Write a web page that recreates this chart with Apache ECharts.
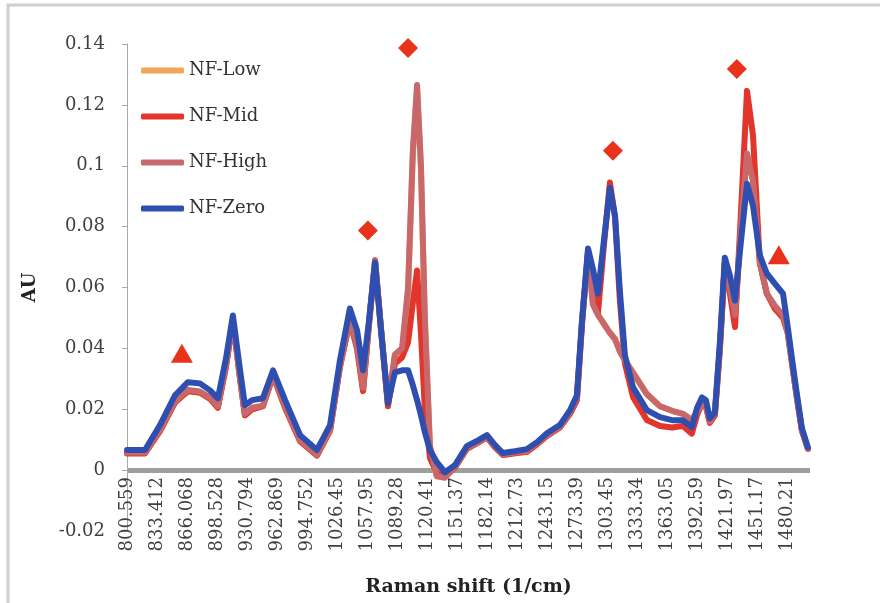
<!DOCTYPE html>
<html>
<head>
<meta charset="utf-8">
<script src="https://cdn.jsdelivr.net/npm/echarts@6/dist/echarts.min.js"></script>
<style>
  html, body { margin: 0; padding: 0; background: #fff; }
  #container { width: 880px; height: 603px; }
</style>
</head>
<body>
<div id="container"></div>
<script>
// tick labels of the category-like x axis (Raman shift, 1/cm)
let xTicks = ['800.559','833.412','866.068','898.528','930.794','962.869','994.752','1026.45',
  '1057.95','1089.28','1120.41','1151.37','1182.14','1212.73','1243.15','1273.39','1303.45',
  '1333.34','1363.05','1392.59','1421.97','1451.17','1480.21'];

// sample positions, in units of tick labels (0 = 800.559, 22 = 1480.21)
let xPos = [0,0.6,1.1,1.6,2.03,2.43,2.77,3.03,3.3,3.53,3.77,3.93,4.17,4.53,4.87,5.27,5.77,6.33,
  6.77,7.1,7.43,7.67,7.87,8.07,8.27,8.47,8.7,8.93,9.17,9.37,9.53,9.67,9.8,9.93,10.1,10.33,10.6,
  10.93,11.33,11.7,12,12.27,12.53,12.93,13.33,13.67,14,14.43,14.77,15,15.17,15.37,15.53,15.7,
  15.9,16.1,16.27,16.43,16.6,16.87,17.33,17.77,18.17,18.53,18.83,19,19.17,19.3,19.43,19.6,
  19.77,19.93,20.1,20.27,20.47,20.67,20.87,21.1,21.33,21.6,21.87,22.03,22.2,22.33,22.5,22.7];

let nfLow = [.0056,.0056,.013,.0224,.0258,.0254,.0233,.0207,.034,.049,.03,.018,.02,.021,.031,
  .0205,.0095,.0048,.013,.034,.049,.04,.026,.048,.0685,.046,.021,.037,.039,.058,.104,.125,.099,
  .049,.007,-.002,-.002,.001,.007,.009,.0108,.0075,.005,.0055,.006,.0085,.0112,.014,.0187,
  .0235,.0485,.0718,.055,.0512,.0482,.0452,.0432,.0392,.0362,.032,.025,.021,.0195,.0185,
  .0165,.019,.022,.021,.016,.019,.041,.068,.06,.05,.08,.104,.095,.068,.058,.0535,.0505,.045,
  .033,.024,.013,.007];

let nfMid = [.0055,.0055,.0128,.0222,.026,.0255,.0235,.0205,.034,.049,.03,.018,.02,.021,.031,
  .0205,.0095,.0048,.013,.034,.049,.04,.026,.048,.0688,.046,.021,.035,.037,.042,.055,.0656,
  .045,.02,.004,-.001,-.002,.0008,.007,.009,.0108,.0075,.005,.0055,.006,.0085,.0112,.014,
  .0185,.023,.048,.0715,.06,.0515,.074,.0945,.083,.056,.035,.024,.0165,.0145,.014,.0145,.012,
  .018,.022,.021,.0155,.018,.04,.068,.058,.047,.085,.1246,.11,.068,.058,.053,.05,.045,.033,
  .024,.013,.007];

let nfHigh = [.0058,.0058,.0132,.0226,.0263,.0258,.0238,.021,.0345,.0495,.03,.0185,.0205,.0212,
  .0312,.021,.0098,.005,.0132,.034,.0495,.041,.027,.049,.069,.0465,.022,.038,.04,.06,.105,
  .1265,.1,.05,.008,-.002,-.0025,.001,.0072,.0092,.011,.0078,.0052,.0058,.0063,.0088,.0115,
  .0142,.019,.024,.049,.072,.0545,.051,.048,.045,.043,.039,.036,.032,.025,.021,.0195,.0185,
  .0165,.019,.022,.021,.016,.019,.041,.068,.06,.051,.08,.104,.095,.068,.058,.054,.051,.045,
  .033,.024,.013,.007];

let nfZero = [.0066,.0066,.0148,.0246,.0289,.0285,.0262,.0236,.0367,.0508,.0328,.0213,.023,
  .0236,.0328,.023,.0115,.0066,.0148,.0361,.0531,.0459,.0328,.0492,.0682,.0459,.022,.0321,
  .0328,.0328,.0279,.023,.018,.0125,.0066,.0026,-.0007,.0016,.0079,.0098,.0115,.0082,.0056,
  .0062,.0069,.0092,.0121,.0148,.0197,.0246,.0492,.0728,.0662,.058,.0754,.0928,.0836,.059,
  .0377,.0272,.0197,.0174,.0164,.0164,.0141,.0203,.0239,.023,.017,.019,.0426,.0698,.0639,
  .0557,.0754,.0941,.0869,.0705,.0646,.0613,.058,.0469,.0344,.0252,.0138,.0075];

// peak annotation markers
let diamonds = [[9.37,.1387],[8.03,.0787],[16.2,.1049],[20.33,.1318]];
let triangles = [[1.83,.0384],[21.73,.0708]];

let names = ['NF-Low','NF-Mid','NF-High','NF-Zero'];
let colors = ['#F2A65A','#E2352B','#C9686A','#2E4FB0'];
let values = [nfLow, nfMid, nfHigh, nfZero];

let font = 'DejaVu Serif';

let lineSeries = names.map((n, k) => ({
  name: n,
  type: 'line',
  symbol: 'none',
  smooth: false,
  color: colors[k],
  lineStyle: { width: 6, color: colors[k], cap: 'round', join: 'round' },
  data: xPos.map((x, i) => [x, values[k][i]])
}));

// split lines: only the one at y = 0 is visible (thick grey baseline)
let splitColors = ['rgba(0,0,0,0)', '#9e9e9e', 'rgba(0,0,0,0)', 'rgba(0,0,0,0)', 'rgba(0,0,0,0)',
  'rgba(0,0,0,0)', 'rgba(0,0,0,0)', 'rgba(0,0,0,0)', 'rgba(0,0,0,0)'];

let chart = echarts.init(document.getElementById('container'));
chart.setOption({
  backgroundColor: '#fff',
  animation: false,
  graphic: [{
    type: 'rect',
    silent: true,
    shape: { x: 8, y: 5, width: 900, height: 640 },
    style: { fill: null, stroke: '#cfcfcf', lineWidth: 3 }
  }],
  grid: { left: 127, right: 70, top: 44, bottom: 72, containLabel: false, outerBoundsMode: 'none' },
  legend: {
    data: names,
    orient: 'vertical',
    left: 141,
    top: 60,
    padding: 0,
    icon: 'roundRect',
    itemWidth: 43,
    itemHeight: 6,
    itemGap: 25,
    textStyle: { fontFamily: font, fontSize: 18, color: '#333', lineHeight: 21 }
  },
  xAxis: {
    type: 'value',
    min: 0,
    max: 22.77,
    interval: 1,
    // axis labels sit under the y = 0 line, 61px above the bottom of the plot
    offset: -61,
    splitLine: { show: false },
    axisTick: { show: false },
    axisLine: { show: false, onZero: false },
    axisLabel: {
      rotate: 90,
      margin: 7,
      showMaxLabel: false,
      fontFamily: font,
      fontSize: 18,
      color: '#404040',
      formatter: v => xTicks[v] || ''
    },
    name: 'Raman shift (1/cm)',
    nameLocation: 'middle',
    nameGap: 108,
    nameTextStyle: { fontFamily: font, fontSize: 19, fontWeight: 'bold', color: '#222' }
  },
  yAxis: {
    type: 'value',
    min: -0.02,
    max: 0.14,
    interval: 0.02,
    splitLine: { show: true, lineStyle: { color: splitColors, width: 5 } },
    axisLine: { show: true, lineStyle: { color: '#a8a8a8', width: 1 } },
    axisTick: { show: true, length: 5, lineStyle: { color: '#a8a8a8' } },
    axisLabel: {
      margin: 22,
      fontFamily: font,
      fontSize: 18,
      color: '#404040',
      formatter: v => String(+v.toFixed(2))
    },
    name: 'AU',
    nameLocation: 'middle',
    nameGap: 88,
    nameTextStyle: { fontFamily: font, fontSize: 18, fontWeight: 'bold', color: '#222' }
  },
  series: lineSeries.concat([
    {
      name: 'peaks',
      type: 'scatter',
      symbol: 'diamond',
      symbolSize: 20,
      itemStyle: { color: '#E8321C', opacity: 1 },
      z: 5,
      data: diamonds
    },
    {
      name: 'shoulders',
      type: 'scatter',
      symbol: 'triangle',
      symbolSize: [22, 19],
      itemStyle: { color: '#E8321C', opacity: 1 },
      z: 5,
      data: triangles
    }
  ])
});
</script>
</body>
</html>
